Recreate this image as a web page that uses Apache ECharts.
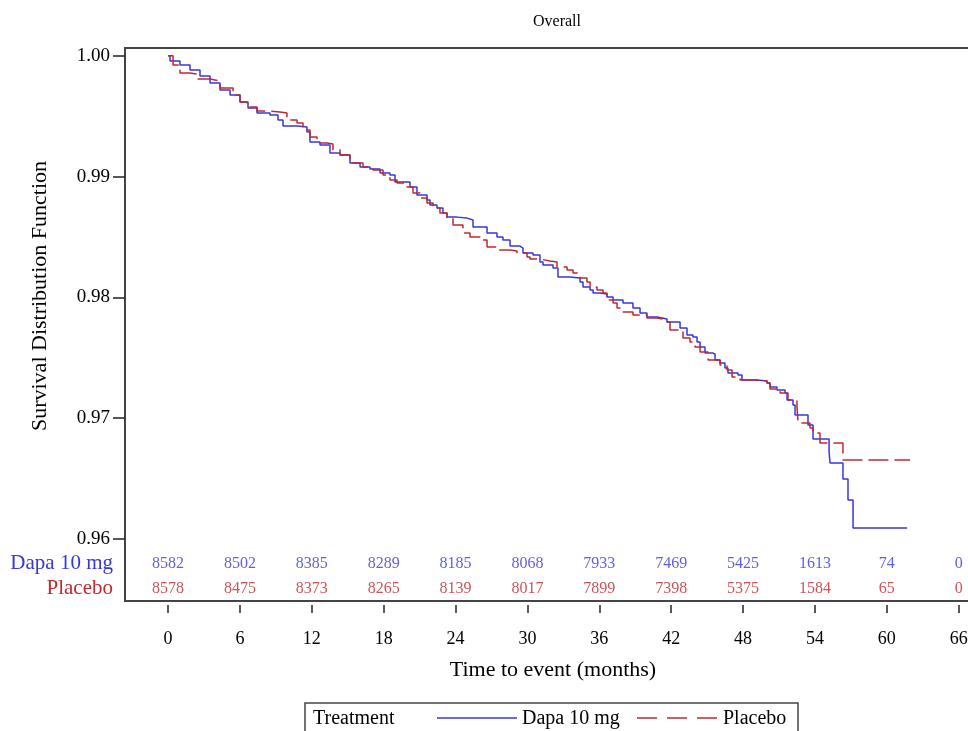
<!DOCTYPE html>
<html>
<head>
<meta charset="utf-8">
<title>Overall</title>
<script src="https://cdn.jsdelivr.net/npm/echarts@6/dist/echarts.min.js"></script>
<style>
  html, body { margin: 0; padding: 0; background: #fff; }
  #chart { width: 968px; height: 731px; }
</style>
</head>
<body>
<div id="chart"></div>
<script>
// KM curves: time (months) where the step lands, and survival after it
var dapaTime = [0, 0.17, 1.00, 1.84, 2.67, 3.51, 4.34, 5.18, 6.01, 6.68, 7.43, 8.51, 9.18, 9.60, 10.77, 11.60, 11.85, 12.69, 13.52, 14.36,
    15.19, 16.03, 16.86, 17.70, 18.53, 18.95, 20.20, 20.78, 21.62, 21.87, 22.45, 22.95, 23.29, 24.12, 24.96, 25.46, 26.63, 27.46, 27.96, 28.55,
    29.38, 29.63, 30.47, 31.05, 31.30, 32.14, 32.55, 33.56, 34.39, 34.64, 35.23, 35.48, 36.06, 36.64, 37.15, 37.98, 38.81, 39.40, 39.98, 40.82,
    41.65, 42.74, 43.32, 43.82, 44.16, 44.41, 44.82, 45.49, 45.66, 46.08, 46.49, 46.74, 47.58, 47.91, 49.17, 50.00, 50.25, 50.83, 51.50, 51.67,
    52.17, 52.34, 53.42, 53.84, 55.18, 55.26, 56.34, 56.76, 57.18, 61.69];
var dapaSurv = [1.0, 0.99956, 0.99923, 0.99882, 0.99832, 0.99774, 0.99716, 0.99675, 0.99617, 0.99567, 0.99526, 0.99509, 0.99468, 0.99418, 0.99410, 0.99368, 0.99285, 0.99261, 0.99195, 0.99178,
    0.99112, 0.99079, 0.99062, 0.99029, 0.99012, 0.98954, 0.98913, 0.98847, 0.98805, 0.98764, 0.98739, 0.98698, 0.98664, 0.98656, 0.98640, 0.98582, 0.98532, 0.98499, 0.98474, 0.98424,
    0.98408, 0.98367, 0.98350, 0.98293, 0.98267, 0.98242, 0.98168, 0.98160, 0.98127, 0.98086, 0.98061, 0.98036, 0.98028, 0.98003, 0.97978, 0.97953, 0.97912, 0.97871, 0.97837, 0.97821,
    0.97796, 0.97746, 0.97688, 0.97671, 0.97630, 0.97589, 0.97539, 0.97531, 0.97482, 0.97457, 0.97415, 0.97374, 0.97357, 0.97316, 0.97308, 0.97291, 0.97258, 0.97233, 0.97208, 0.97150,
    0.97109, 0.97026, 0.96944, 0.96828, 0.96720, 0.96629, 0.96497, 0.96323, 0.96091, 0.96091];

var placeboTime = [0, 0.42, 1.00, 1.84, 2.42, 3.51, 4.34, 5.43, 6.01, 6.59, 7.43, 8.26, 9.35, 9.93, 10.77, 11.27, 11.85, 12.44, 13.27, 13.77,
    14.36, 15.19, 16.28, 17.11, 17.95, 18.53, 19.12, 19.95, 20.45, 21.04, 21.62, 22.12, 22.70, 23.29, 23.79, 24.62, 25.21, 26.04, 26.63, 27.46,
    28.55, 29.13, 29.97, 30.22, 31.05, 31.89, 32.47, 33.31, 33.81, 34.39, 34.97, 35.23, 35.81, 36.31, 36.64, 37.15, 37.48, 37.73, 38.81, 39.98,
    40.82, 41.65, 41.90, 42.99, 43.57, 43.99, 44.41, 45.08, 46.08, 46.66, 47.08, 47.75, 49.17, 50.00, 50.25, 51.09, 51.75, 52.50, 52.59, 53.59,
    53.84, 54.42, 56.34, 61.94];
var placeboSurv = [1.0, 0.99923, 0.99857, 0.99849, 0.99807, 0.99791, 0.99733, 0.99675, 0.99617, 0.99575, 0.99542, 0.99534, 0.99526, 0.99468, 0.99443, 0.99385, 0.99327, 0.99278, 0.99269, 0.99220,
    0.99178, 0.99112, 0.99079, 0.99054, 0.99012, 0.98971, 0.98946, 0.98913, 0.98864, 0.98822, 0.98781, 0.98739, 0.98698, 0.98656, 0.98599, 0.98532, 0.98499, 0.98474, 0.98417, 0.98392,
    0.98384, 0.98367, 0.98334, 0.98317, 0.98301, 0.98293, 0.98251, 0.98226, 0.98202, 0.98160, 0.98127, 0.98086, 0.98061, 0.98036, 0.97978, 0.97953, 0.97912, 0.97879, 0.97854, 0.97829,
    0.97813, 0.97796, 0.97730, 0.97664, 0.97630, 0.97589, 0.97548, 0.97482, 0.97440, 0.97399, 0.97341, 0.97316, 0.97308, 0.97291, 0.97241, 0.97208, 0.97150, 0.97101, 0.96960, 0.96919,
    0.96877, 0.96795, 0.96654, 0.96654];

// numbers at risk
var riskMonths = [0, 6, 12, 18, 24, 30, 36, 42, 48, 54, 60, 66];
var dapaRisk = [8582, 8502, 8385, 8289, 8185, 8068, 7933, 7469, 5425, 1613, 74, 0];
var placeboRisk = [8578, 8475, 8373, 8265, 8139, 8017, 7899, 7398, 5375, 1584, 65, 0];
var yTicks = [0.96, 0.97, 0.98, 0.99, 1.00];
var groups = ['Dapa 10 mg', 'Placebo'];

var BLUE = '#3636e0';
var RED = '#c0282e';
var FONT = 'Liberation Serif';

function pairs(xs, ys) {
    var out = [];
    for (var i = 0; i < xs.length; i++) out.push([xs[i], ys[i]]);
    return out;
}
function riskRow(vals, name) {
    var out = [];
    for (var i = 0; i < riskMonths.length; i++) out.push([riskMonths[i], name, vals[i]]);
    return out;
}

// frame runs past the right edge of the picture, as in the original
var xMin = -3.589, xMax = 67.36;

var chart = echarts.init(document.getElementById('chart'));
chart.setOption({
    animation: false,
    backgroundColor: '#fff',
    title: {
        text: 'Overall',
        left: 552, top: 9,
        textAlign: 'center',
        textStyle: { fontFamily: FONT, fontSize: 16, fontWeight: 'normal', color: '#000' }
    },
    grid: [
        { left: 125, top: 48, width: 850, bottom: 130, show: true, borderColor: '#444', borderWidth: 2, outerBoundsMode: 'none' },
        { left: 125, top: 551, width: 850, height: 50, outerBoundsMode: 'none' }
    ],
    xAxis: [{
        type: 'value', gridIndex: 0, min: xMin, max: xMax, offset: 4,
        axisLine: { show: false, onZero: false },
        splitLine: { show: false },
        axisTick: { show: true, length: 8, customValues: riskMonths, lineStyle: { color: '#222', width: 1.5 } },
        axisLabel: { customValues: riskMonths, margin: 25, fontFamily: FONT, fontSize: 18, color: '#000' }
    }, {
        type: 'value', gridIndex: 1, min: xMin, max: xMax, show: false
    }],
    yAxis: [{
        type: 'value', gridIndex: 0, min: 0.95487, max: 1.000637,
        axisLine: { show: false, onZero: false },
        splitLine: { show: false },
        axisTick: { show: true, length: 12, customValues: yTicks, lineStyle: { color: '#222', width: 1.5 } },
        axisLabel: {
            customValues: yTicks, margin: 15, fontFamily: FONT, fontSize: 19, color: '#000',
            formatter: function (v) { return v.toFixed(2); }
        }
    }, {
        type: 'category', gridIndex: 1, data: groups, inverse: true,
        axisLine: { show: false, onZero: false }, axisTick: { show: false }, splitLine: { show: false },
        axisLabel: {
            interval: 0, hideOverlap: false,
            margin: 12, fontFamily: FONT, fontSize: 21,
            formatter: function (v) { return v === 'Placebo' ? '{p|' + v + '}' : '{d|' + v + '}'; },
            rich: {
                d: { color: BLUE, fontFamily: FONT, fontSize: 21 },
                p: { color: RED, fontFamily: FONT, fontSize: 21 }
            }
        }
    }],
    graphic: [
        {
            type: 'text', x: 40, y: 296, rotation: Math.PI / 2,
            style: { text: 'Survival Distribution Function', font: '22px "Liberation Serif"', fill: '#000', align: 'center', verticalAlign: 'middle' }
        },
        {
            type: 'text', x: 553, y: 670,
            style: { text: 'Time to event (months)', font: '22px "Liberation Serif"', fill: '#000', align: 'center', verticalAlign: 'middle' }
        },
        // legend box
        {
            type: 'rect', shape: { x: 305, y: 703, width: 493, height: 40 },
            style: { fill: 'none', stroke: '#444', lineWidth: 1.5 }
        },
        {
            type: 'text', x: 313, y: 719,
            style: { text: 'Treatment', font: '20px "Liberation Serif"', fill: '#000', align: 'left', verticalAlign: 'middle' }
        },
        {
            type: 'line', shape: { x1: 437, y1: 718, x2: 517, y2: 718 },
            style: { stroke: BLUE, lineWidth: 1.5 }
        },
        {
            type: 'text', x: 522, y: 719,
            style: { text: groups[0], font: '20px "Liberation Serif"', fill: '#000', align: 'left', verticalAlign: 'middle' }
        },
        {
            type: 'line', shape: { x1: 637, y1: 718, x2: 718, y2: 718 },
            style: { stroke: RED, lineWidth: 1.5, lineDash: [20, 10] }
        },
        {
            type: 'text', x: 723, y: 719,
            style: { text: groups[1], font: '20px "Liberation Serif"', fill: '#000', align: 'left', verticalAlign: 'middle' }
        }
    ],
    series: [{
        name: groups[0], type: 'line', step: 'end', symbol: 'none',
        xAxisIndex: 0, yAxisIndex: 0,
        data: pairs(dapaTime, dapaSurv),
        lineStyle: { color: BLUE, width: 1.5 },
        itemStyle: { color: BLUE }
    }, {
        name: groups[1], type: 'line', step: 'end', symbol: 'none',
        xAxisIndex: 0, yAxisIndex: 0,
        data: pairs(placeboTime, placeboSurv),
        lineStyle: { color: RED, width: 1.5, type: [20, 6] },
        itemStyle: { color: RED }
    }, {
        name: 'risk-dapa', type: 'scatter', xAxisIndex: 1, yAxisIndex: 1,
        symbolSize: 1, itemStyle: { color: 'rgba(0,0,0,0)' },
        data: riskRow(dapaRisk, groups[0]),
        label: { show: true, position: 'inside', formatter: function (p) { return p.value[2]; }, color: BLUE, fontFamily: FONT, fontSize: 16 }
    }, {
        name: 'risk-placebo', type: 'scatter', xAxisIndex: 1, yAxisIndex: 1,
        symbolSize: 1, itemStyle: { color: 'rgba(0,0,0,0)' },
        data: riskRow(placeboRisk, groups[1]),
        label: { show: true, position: 'inside', formatter: function (p) { return p.value[2]; }, color: RED, fontFamily: FONT, fontSize: 16 }
    }]
});
</script>
</body>
</html>
